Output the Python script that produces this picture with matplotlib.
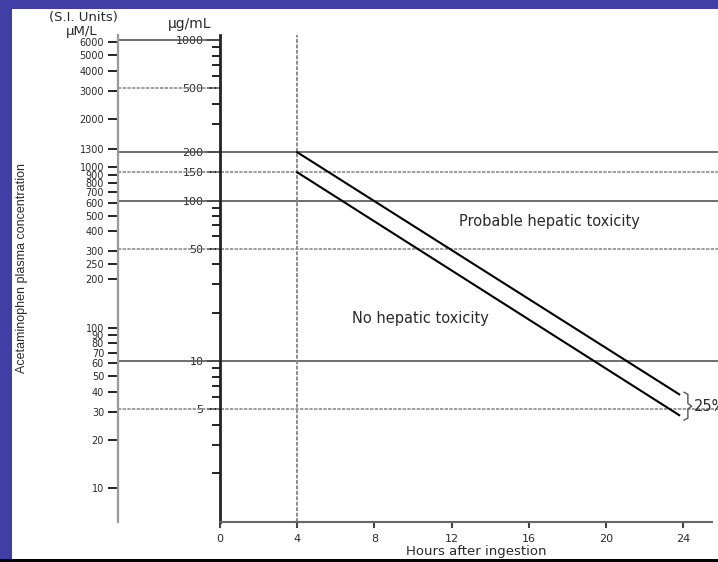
import numpy as np
import matplotlib.pyplot as plt
from matplotlib.patches import Rectangle
from matplotlib.ticker import FixedLocator, LogLocator, NullLocator, NullFormatter, FuncFormatter

# Données du nomogramme (Rumack-Matthew)
hours_ticks = [0, 4, 8, 12, 16, 20, 24]
ug_major = [5, 10, 50, 100, 150, 200, 500, 1000]
um_ticks = [10, 20, 30, 40, 50, 60, 70, 80, 90, 100, 200, 250, 300, 400, 500,
            600, 700, 800, 900, 1000, 1300, 2000, 3000, 4000, 5000, 6000]
solid_levels = [10, 100, 200]
dotted_levels = [5, 50, 150]
left_solid_levels = [1000]
left_dotted_levels = [500]
line_hours = [4, 23.8]
upper_line = [200, 6.2]
lower_line = [150, 4.6]
UM_FACTOR = 6.2

W, H = 718, 562
BLUE = '#3f3fa6'
TXT = '#2a2a2a'
GREY = '#8c8c8c'
DOTS = (0, (2, 0.8))

fig = plt.figure(figsize=(W / 100, H / 100), dpi=100, facecolor=BLUE)
fig.patches.append(Rectangle((12 / W, 3 / H), 706 / W, 550 / H, transform=fig.transFigure,
                             facecolor='white', edgecolor='none', zorder=-10))
fig.patches.append(Rectangle((0, 0), 1, 3 / H, transform=fig.transFigure,
                             facecolor='black', edgecolor='none', zorder=-10))

ax = fig.add_axes([220 / W, 40.5 / H, 492 / W, 486.5 / H])
ax.set_facecolor('none')
ax.set_yscale('log')
ax.set_xlim(0, 25.5)
ax.set_ylim(1.0, 1075)

x_left = -(220 - 118) / 19.3   # position de l'échelle µM en heures
x_right = (718 - 220) / 19.3

# axe µg/mL
ax.yaxis.set_major_locator(FixedLocator(ug_major))
ax.yaxis.set_major_formatter(FuncFormatter(lambda v, p: f"{v:g}"))
ax.yaxis.set_minor_locator(LogLocator(base=10, subs=range(2, 10)))
ax.yaxis.set_minor_formatter(NullFormatter())
ax.tick_params(axis='y', which='major', length=10, width=1.4, pad=2,
               labelsize=8, labelcolor=TXT, color='#222222')
ax.tick_params(axis='y', which='minor', length=6, width=1.4, color='#222222')
for lab in ax.get_yticklabels():
    lab.set_bbox(dict(boxstyle='square,pad=0.3', facecolor='white', edgecolor='none'))

# axe des heures
ax.xaxis.set_major_locator(FixedLocator(hours_ticks))
ax.tick_params(axis='x', length=4, width=1.5, pad=5, labelsize=8,
               labelcolor=TXT, color='#444444')
ax.set_xlabel('Hours after ingestion', fontsize=9.5, color=TXT)
ax.xaxis.label.set_va('center')
ax.xaxis.set_label_coords((476 - 220) / 492, -(551 - 521.5) / 486.5)

for s in ['top', 'right']:
    ax.spines[s].set_visible(False)
ax.spines['left'].set_linewidth(2)
ax.spines['left'].set_color('#222222')
ax.spines['bottom'].set_color('#666666')
ax.spines['bottom'].set_linewidth(1.5)
ax.spines['bottom'].set_linestyle(DOTS)

# lignes horizontales de référence
ax.hlines(solid_levels, x_left, x_right, colors='#555555', lw=1.2, clip_on=False)
ax.hlines(dotted_levels, x_left, x_right, colors=GREY, lw=1.2,
          linestyles=[DOTS], clip_on=False)
ax.hlines(left_solid_levels, x_left, 0, colors='#555555', lw=1.2, clip_on=False)
ax.hlines(left_dotted_levels, x_left, 0, colors=GREY, lw=1.2,
          linestyles=[DOTS], clip_on=False)
ax.axvline(4, color=GREY, lw=1.4, linestyle=DOTS)

# lignes du nomogramme
ax.plot(line_hours, upper_line, color='black', lw=1.5)
ax.plot(line_hours, lower_line, color='black', lw=1.5)

# accolade 25%
xb = line_hours[-1] + 0.45
top, bot = upper_line[-1] * 1.03, lower_line[-1] * 0.93
mid = np.sqrt(top * bot)
ax.plot([xb - 0.2, xb, xb, xb + 0.2, xb, xb, xb - 0.2],
        [top, top * 0.97, mid * 1.04, mid, mid / 1.04, bot / 0.97, bot],
        color='#555555', lw=1, clip_on=False)
ax.text(xb + 0.3, mid, '25%', fontsize=10.5, color=TXT, va='center', ha='left', clip_on=False)

ax.text(17.1, 73.5, 'Probable hepatic toxicity', fontsize=10.5, color=TXT, ha='center', va='center')
ax.text(10.4, 18.5, 'No hepatic toxicity', fontsize=10.5, color=TXT, ha='center', va='center')

# échelle S.I. (µM/L)
ax2 = ax.twinx()
ax2.set_yscale('log')
ax2.set_ylim(1.0 * UM_FACTOR, 1075 * UM_FACTOR)
ax2.yaxis.tick_left()
ax2.yaxis.set_major_locator(FixedLocator(um_ticks))
ax2.yaxis.set_major_formatter(FuncFormatter(lambda v, p: f"{v:g}"))
ax2.yaxis.set_minor_locator(NullLocator())
ax2.tick_params(axis='y', length=7, width=1.4, pad=3, labelsize=7,
                labelcolor=TXT, color='#222222')
for s in ['top', 'right', 'bottom']:
    ax2.spines[s].set_visible(False)
ax2.spines['left'].set_position(('axes', -(220 - 118) / 492))
ax2.spines['left'].set_color('#999999')
ax2.spines['left'].set_linewidth(1.6)
ax2.spines['left'].set_linestyle(DOTS)

# titres des échelles
fig.text(83 / W, 1 - 17 / H, '(S.I. Units)', fontsize=9.5, color=TXT, ha='center', va='center')
fig.text(82 / W, 1 - 31 / H, 'µM/L', fontsize=9.5, color=TXT, ha='center', va='center')
fig.text(190 / W, 1 - 24 / H, 'µg/mL', fontsize=10, color=TXT, ha='center', va='center')
fig.text(22 / W, 1 - 268 / H, 'Acetaminophen plasma concentration', fontsize=9,
         family='Liberation Sans', rotation=90, color=TXT, ha='center', va='center')

plt.savefig('out.png', dpi=100, facecolor=BLUE)
